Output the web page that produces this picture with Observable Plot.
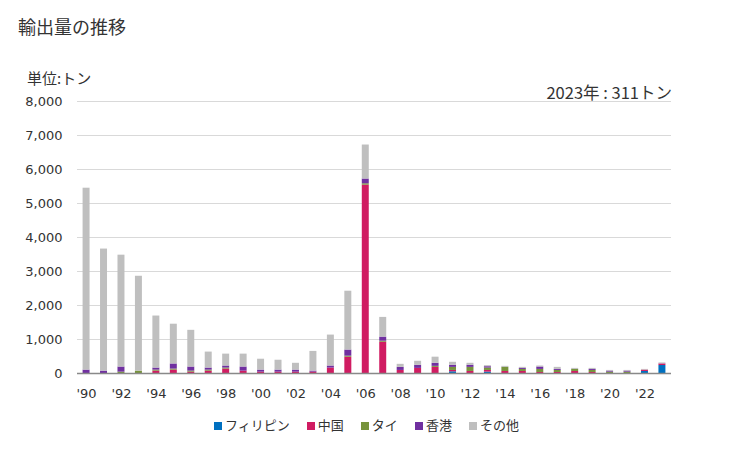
<!DOCTYPE html>
<html><head><meta charset="utf-8">
<script src="https://cdn.jsdelivr.net/npm/d3@7"></script>
<script src="https://cdn.jsdelivr.net/npm/@observablehq/plot@0.6"></script>
<style>
body{margin:0;background:#fff;}
#wrap{position:relative;width:729px;height:450px;font-family:"Noto Sans CJK JP",sans-serif;color:#333;}
#chart{position:absolute;left:0;top:0;}
.t{position:absolute;white-space:nowrap;}
#title{left:18px;top:13px;font-size:18px;color:#333;}
#unit{left:27px;top:67px;font-size:15px;}
#note{right:57px;top:80px;font-size:16.5px;}
#legend{position:absolute;left:0;width:733px;top:415px;display:flex;justify-content:center;gap:17px;font-size:13px;}
#legend .it{display:flex;align-items:center;}
#legend .sw{width:8px;height:8px;margin-right:3px;margin-top:3px;}
</style></head><body>
<div id="wrap">
<div id="chart"></div>
<div class="t" id="title">輸出量の推移</div>
<div class="t" id="unit">単位:トン</div>
<div class="t" id="note">2023年 : 311トン</div>
<div id="legend"></div>
</div>
<script>
const years = ["1990","1991","1992","1993","1994","1995","1996","1997","1998","1999","2000","2001","2002","2003","2004","2005","2006","2007","2008","2009","2010","2011","2012","2013","2014","2015","2016","2017","2018","2019","2020","2021","2022","2023"];
const seriesNames = ["フィリピン","中国","タイ","香港","その他"];
const seriesColors = ["#0070C0","#D01C62","#77933C","#7030A0","#BFBFBF"];
const philippines = [0,0,0,0,0,0,0,0,0,0,0,0,0,0,0,0,0,0,0,0,0,50,0,40,0,0,0,0,0,0,0,0,60,235];
const china =       [0,0,0,0,70,100,40,70,130,70,40,40,40,40,160,480,5540,920,90,150,180,40,60,50,60,60,30,30,60,30,0,0,40,45];
const thailand =    [0,0,40,70,30,30,30,30,30,0,0,0,0,0,0,30,40,30,0,0,30,90,120,70,120,60,90,60,60,60,40,40,0,0];
const hongkong =    [100,70,150,0,60,150,120,60,60,120,60,60,60,30,60,180,140,120,90,90,90,60,60,40,0,30,70,30,0,30,30,30,0,5];
const others =      [5350,3590,3290,2790,1530,1170,1080,470,350,380,320,290,200,580,910,1730,1000,580,90,120,180,90,60,30,30,30,30,60,30,30,20,20,20,26];
const yTicks = [0,1000,2000,3000,4000,5000,6000,7000,8000];
const xTickYears = ["1990","1992","1994","1996","1998","2000","2002","2004","2006","2008","2010","2012","2014","2016","2018","2020","2022"];

const seriesValues = [philippines, china, thailand, hongkong, others];
const data = [];
seriesNames.forEach((s, si) => years.forEach((y, i) => data.push({year: y, series: s, value: seriesValues[si][i]})));

const chart = Plot.plot({
  width: 729, height: 450,
  marginTop: 101, marginBottom: 77, marginLeft: 77, marginRight: 58,
  style: {fontFamily: "DejaVu Sans, sans-serif", fontSize: "13px", color: "#333", background: "transparent"},
  x: {type: "band", domain: years, paddingInner: 0.6, paddingOuter: 0.32, round: false},
  y: {domain: [0, 8000]},
  color: {domain: seriesNames, range: seriesColors},
  marks: [
    Plot.gridY(yTicks, {stroke: "#d9d9d9", strokeOpacity: 1, strokeWidth: 1}),
    Plot.barY(data, Plot.stackY({x: "year", y: "value", fill: "series", order: seriesNames})),
    Plot.ruleY([0], {stroke: "#898989", strokeWidth: 1.5}),
    Plot.axisY(yTicks, {tickSize: 0, tickPadding: 15, tickFormat: d3.format(","), label: null}),
    Plot.axisX(xTickYears, {tickSize: 0, tickPadding: 15, tickFormat: d => "'" + d.slice(2), label: null})
  ]
});
document.getElementById("chart").appendChild(chart);

const legend = document.getElementById("legend");
seriesNames.forEach((s, i) => {
  const it = document.createElement("div"); it.className = "it";
  const sw = document.createElement("div"); sw.className = "sw"; sw.style.background = seriesColors[i];
  const tx = document.createElement("span"); tx.textContent = s;
  it.appendChild(sw); it.appendChild(tx); legend.appendChild(it);
});
</script>
</body></html>
